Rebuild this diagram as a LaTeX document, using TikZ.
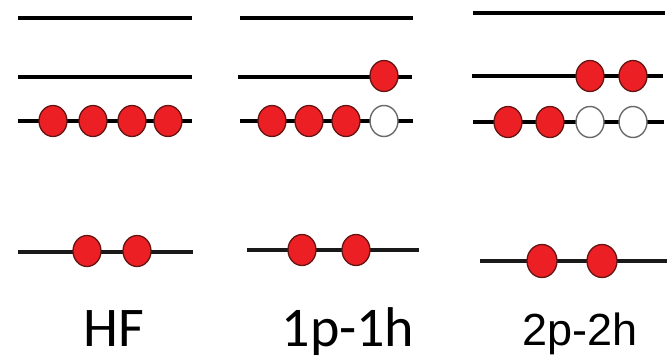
\documentclass[tikz,border=0pt]{standalone}
\usepackage{fontspec}
\setmainfont{Carlito}
\newfontfamily\arialfont{Liberation Sans}
\usetikzlibrary{shapes.geometric}
\definecolor{elred}{RGB}{236,32,36}
\definecolor{elrim}{RGB}{100,20,18}
\definecolor{holerim}{RGB}{105,105,105}
\tikzset{
  level/.style={line width=3.6pt, black},
  lowlevel/.style={line width=3.1pt, black!90},
  elec/.style={ellipse, draw=elrim, line width=1.3pt, fill=elred, minimum width=28pt, minimum height=31pt, inner sep=0pt},
  hole/.style={ellipse, draw=holerim, line width=1.4pt, fill=white, minimum width=28pt, minimum height=31pt, inner sep=0pt},
  bigelec/.style={elec, minimum width=30pt, minimum height=33pt},
  lbl/.style={anchor=base, inner sep=0pt}
}
\begin{document}
\begin{tikzpicture}[x=1pt,y=-1pt]
\useasboundingbox (0,0) rectangle (667,359);
% ---------- HF ----------
\coordinate (a1l) at (18,18);  \coordinate (a1r) at (192,18);
\coordinate (a2l) at (18,77);  \coordinate (a2r) at (192,77);
\coordinate (a3l) at (18,121); \coordinate (a3r) at (192,121);
\coordinate (a4l) at (18,252); \coordinate (a4r) at (193,252);
\draw[level] (a1l) -- (a1r);
\draw[level] (a2l) -- (a2r);
\draw[level] (a3l) -- (a3r);
\draw[lowlevel] (a4l) -- (a4r);
\node[elec] (a31) at (53,121) {};
\node[elec] (a32) at (93,121) {};
\node[elec] (a33) at (132,121) {};
\node[elec] (a34) at (168,121) {};
\node[elec] (a41) at (87,251) {};
\node[elec] (a42) at (137,251) {};
\node[lbl] (hf) at (113.5,346) {\fontsize{56}{60}\selectfont HF};
% ---------- 1p-1h ----------
\coordinate (b1l) at (240,18);  \coordinate (b1r) at (413,18);
\coordinate (b2l) at (238,77);  \coordinate (b2r) at (412,77);
\coordinate (b3l) at (240,121); \coordinate (b3r) at (413,121);
\coordinate (b4l) at (247,250); \coordinate (b4r) at (419,250);
\draw[level] (b1l) -- (b1r);
\draw[level] (b2l) -- (b2r);
\draw[level] (b3l) -- (b3r);
\draw[lowlevel] (b4l) -- (b4r);
\node[elec] (b21) at (384,76) {};
\node[elec] (b31) at (272,121) {};
\node[elec] (b32) at (309,121) {};
\node[elec] (b33) at (346,121) {};
\node[hole] (b34) at (384,121) {};
\node[elec] (b41) at (302,250) {};
\node[elec] (b42) at (356,250) {};
\node[lbl] (ph1) at (348,346) {\fontsize{56}{60}\selectfont 1p-1h};
% ---------- 2p-2h ----------
\coordinate (c1l) at (473,13);  \coordinate (c1r) at (665,13);
\coordinate (c2l) at (472,76);  \coordinate (c2r) at (663,76);
\coordinate (c3l) at (473,122); \coordinate (c3r) at (664,122);
\coordinate (c4l) at (480,261); \coordinate (c4r) at (667,261);
\draw[level] (c1l) -- (c1r);
\draw[level] (c2l) -- (c2r);
\draw[level] (c3l) -- (c3r);
\draw[lowlevel] (c4l) -- (c4r);
\node[elec] (c21) at (590,76) {};
\node[elec] (c22) at (633,76) {};
\node[elec] (c31) at (508,122) {};
\node[elec] (c32) at (550,122) {};
\node[hole] (c33) at (590,122) {};
\node[hole] (c34) at (633,122) {};
\node[bigelec] (c41) at (542,261) {};
\node[bigelec] (c42) at (602,261) {};
\node[lbl] (ph2) at (580,345) {\arialfont\fontsize{45}{50}\selectfont 2p-2h};
\end{tikzpicture}
\end{document}
